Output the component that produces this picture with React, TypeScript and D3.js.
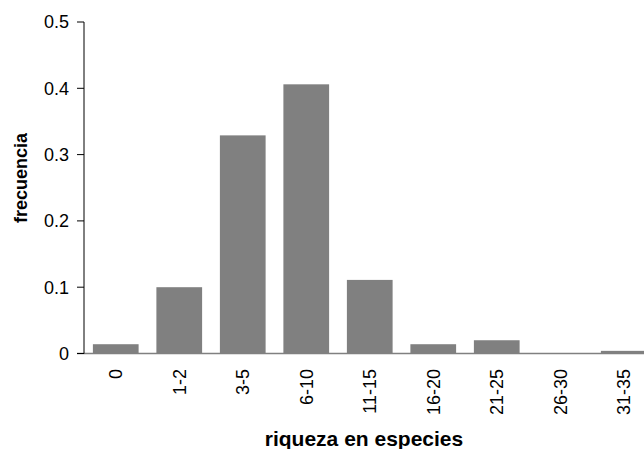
import React from "react";
import * as d3 from "d3";

const categories = ["0", "1-2", "3-5", "6-10", "11-15", "16-20", "21-25", "26-30", "31-35"];
const frecuencia = [0.014, 0.1, 0.329, 0.406, 0.111, 0.014, 0.02, 0, 0.004];
const yTicks = [0, 0.1, 0.2, 0.3, 0.4, 0.5];

const W = 644;
const H = 449;
const left = 84;
const right = 655.5;
const top = 22;
const bottom = 353.5;

export default function App() {
  const x = d3.scaleBand<string>().domain(categories).range([left, right]).paddingInner(0.28).paddingOuter(0.14);
  const y = d3.scaleLinear().domain([0, 0.5]).range([bottom, top]);
  const font = "Arial, 'Liberation Sans', sans-serif";
  const fmt = (v: number) => (v === 0 ? "0" : d3.format(".1f")(v));
  return (
    <svg width={W} height={H} style={{ position: "absolute", left: 0, top: 0, background: "#fff" }} fontFamily={font}>
      {categories.map((c, i) => (
        <rect key={c} x={x(c)} y={y(frecuencia[i])} width={x.bandwidth()} height={bottom - y(frecuencia[i])} fill="#808080" />
      ))}
      <line x1={77} x2={W} y1={bottom} y2={bottom} stroke="#808080" strokeWidth={1.5} />
      <line x1={left} x2={left} y1={top} y2={bottom} stroke="#000" strokeWidth={1} />
      {yTicks.map((t) => (
        <g key={t}>
          <line x1={77} x2={left} y1={y(t)} y2={y(t)} stroke="#000" strokeWidth={1} />
          <text x={69} y={y(t)} dy="0.36em" textAnchor="end" fontSize={18} fill="#000">
            {fmt(t)}
          </text>
        </g>
      ))}
      {categories.map((c) => (
        <text
          key={c}
          transform={`translate(${(x(c) as number) + x.bandwidth() / 2},369) rotate(-90)`}
          dy="0.36em"
          textAnchor="end"
          fontSize={18}
          fill="#000"
        >
          {c}
        </text>
      ))}
      <text x={364} y={446} textAnchor="middle" fontSize={21} fontWeight="bold" fill="#000">
        riqueza en especies
      </text>
      <text transform={`translate(27,178) rotate(-90)`} textAnchor="middle" fontSize={18} fontWeight="bold" fill="#000">
        frecuencia
      </text>
    </svg>
  );
}
